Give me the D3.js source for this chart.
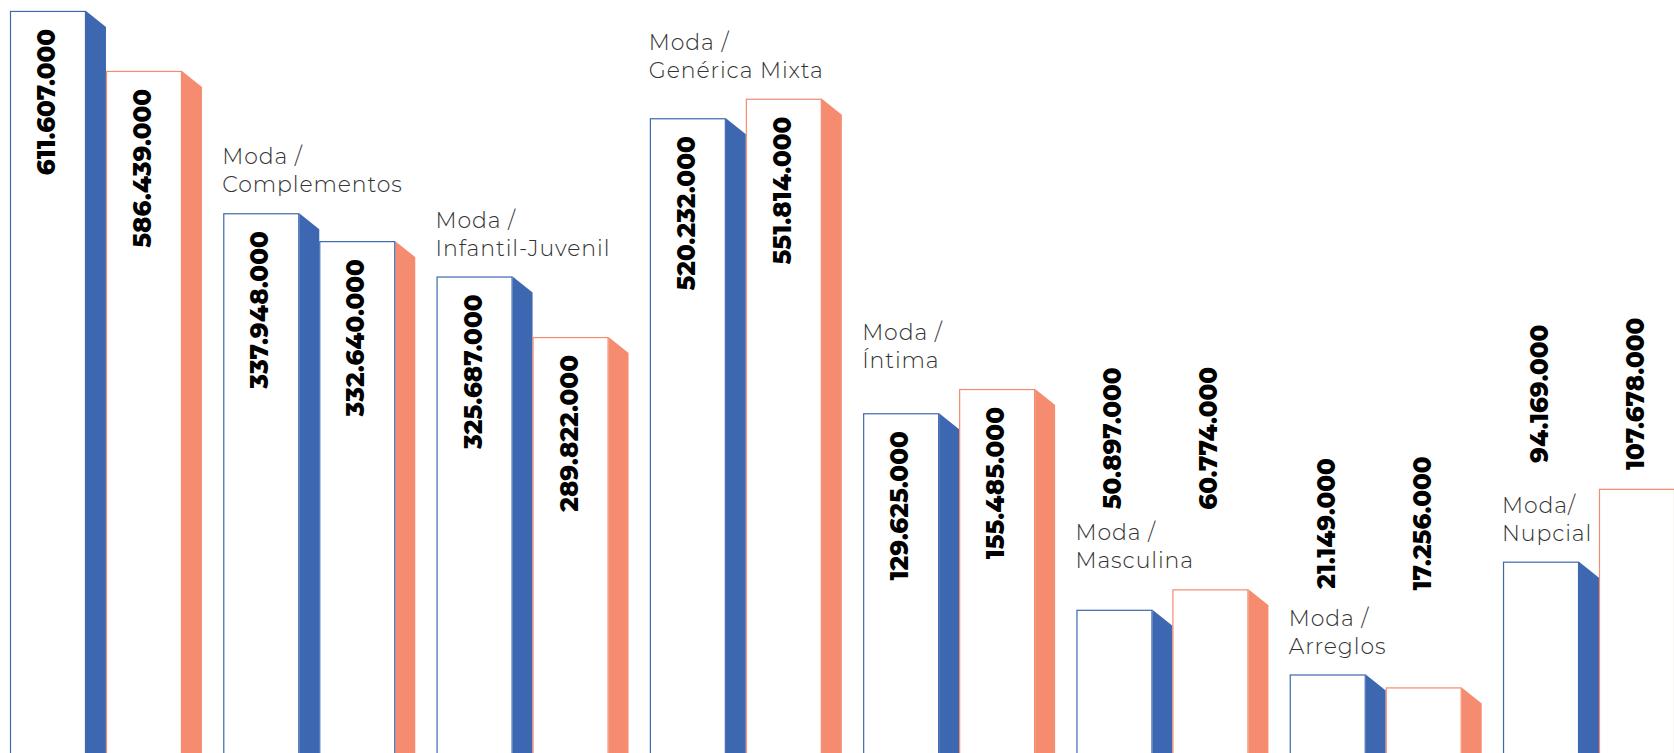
<!DOCTYPE html>
<html>
<head>
<meta charset="utf-8">
<script src="https://cdn.jsdelivr.net/npm/d3@7"></script>
<style>
  html, body { margin: 0; padding: 0; background: #ffffff; }
  svg { display: block; }
</style>
</head>
<body>
<svg id="chart" width="1674" height="753"></svg>
<script>
// ---------------- data ----------------
const categories = [
  "",
  "Moda /\nComplementos",
  "Moda /\nInfantil-Juvenil",
  "Moda /\nGenérica Mixta",
  "Moda /\nÍntima",
  "Moda /\nMasculina",
  "Moda /\nArreglos",
  "Moda/\nNupcial"
];
const seriesNames = ["Serie 1", "Serie 2"];
const valuesSerie1 = [611607000, 337948000, 325687000, 520232000, 129625000, 50897000, 21149000, 94169000];
const valuesSerie2 = [586439000, 332640000, 289822000, 551814000, 155485000, 60774000, 17256000, 107678000];

// ---------------- layout / style ----------------
const W = 1674, H = 753;
const colors = ["#3D68B1", "#F58B6F"];
const outlineOverride = { "1-1": "#3D68B1" };   // group 1, series 2 has a blue outline in the original
const sideW = 20, slant = 16;
const insideMin = 120e6;

const svg = d3.select("#chart");

// hand-drawn, non-linear value axis: piecewise linear scale
const yBreaks = [0, 20e6, 60e6, 95e6, 108e6, 130e6, 160e6, 290e6, 326e6, 338e6, 540e6, 586e6, 612e6];
const yPix    = [753, 677, 590, 561, 487, 412, 385, 337, 276, 213, 108, 72, 10];
const y = d3.scaleLinear().domain(yBreaks).range(yPix).clamp(true);

const x0 = d3.scaleBand().domain(d3.range(categories.length)).range([10, 1695]).paddingInner(0.1).paddingOuter(0).align(0);
const x1 = d3.scaleBand().domain(seriesNames).range([0, x0.bandwidth()]).padding(0);
const frontW = x1.bandwidth() - sideW;

const fmt = d3.formatLocale({ decimal: ",", thousands: ".", grouping: [3], currency: ["", ""] }).format(",");

const rows = categories.map((c, i) => ({
  i, label: c, vals: [valuesSerie1[i], valuesSerie2[i]]
}));
rows.forEach(d => { d.outside = d3.max(d.vals) < insideMin; });

const gGroups = svg.selectAll("g.group").data(rows).join("g")
  .attr("class", "group")
  .attr("transform", d => `translate(${x0(d.i)},0)`);

// bars
gGroups.each(function(d) {
  const g = d3.select(this);
  d.vals.forEach((v, j) => {
    const bx = x1(seriesNames[j]);
    const top = y(v);
    g.append("path")
      .attr("d", `M${bx + frontW},${top} L${bx + frontW + sideW},${top + slant} L${bx + frontW + sideW},${H + 2} L${bx + frontW},${H + 2} Z`)
      .attr("fill", colors[j]);
    g.append("rect")
      .attr("x", bx + 0.5).attr("y", top + 0.5)
      .attr("width", frontW - 1).attr("height", H - top + 5)
      .attr("fill", "#ffffff")
      .attr("stroke", outlineOverride[`${d.i}-${j}`] || colors[j])
      .attr("stroke-width", 1.2);
  });
});

// category labels
gGroups.each(function(d) {
  const g = d3.select(this);
  const lines = d.label ? d.label.split("\n") : [];
  const t = g.append("text")
    .attr("class", "cat")
    .attr("font-family", "Montserrat, Inter, 'Open Sans', sans-serif")
    .attr("font-weight", 300)
    .attr("font-size", 22)
    .attr("letter-spacing", 0.9)
    .attr("fill", "#333333");
  lines.forEach((ln, k) => t.append("tspan").attr("x", -1).attr("dy", k === 0 ? 0 : 28).text(ln));
  const tw = lines.length ? t.node().getBBox().width : 0;
  const bars = d.vals.map((v, j) => ({ top: y(v), x: x1(seriesNames[j]) }));
  const considered = d.outside ? bars.filter(b => b.x < tw - 1) : bars;
  const ref = d3.min(considered, b => b.top);
  const lastBase = ref - 21;
  const firstBase = lastBase - 28 * (Math.max(lines.length, 1) - 1);
  t.select("tspan").attr("y", firstBase);
  d.firstBase = firstBase;
  d.minTop = d3.min(bars, b => b.top);
});

// value labels
gGroups.each(function(d) {
  const g = d3.select(this);
  d.vals.forEach((v, j) => {
    const bx = x1(seriesNames[j]);
    const top = y(v);
    const t = g.append("text")
      .attr("font-family", "Montserrat, Inter, 'Open Sans', sans-serif")
      .attr("font-weight", 800)
      .attr("font-size", 24.5)
      .attr("fill", "#000000")
      .text(fmt(v));
    if (d.outside) {
      const cy = Math.min(d.firstBase - 102, d.minTop - 95);
      t.attr("text-anchor", "middle")
        .attr("transform", `translate(${bx + 45},${cy}) rotate(-90)`);
    } else {
      t.attr("text-anchor", "end")
        .attr("transform", `translate(${bx + 45},${top + 18}) rotate(-90)`);
    }
  });
});
</script>
</body>
</html>
